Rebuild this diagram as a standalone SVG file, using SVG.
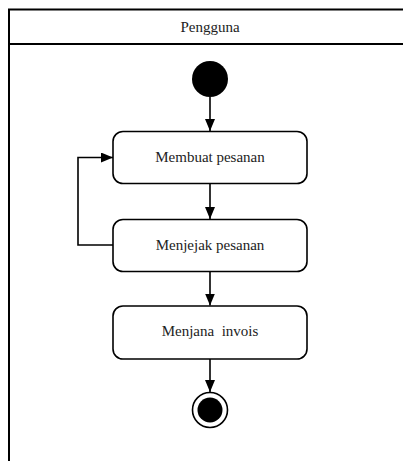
<svg xmlns="http://www.w3.org/2000/svg" width="403" height="461" viewBox="0 0 403 461">
<style>
.frame{fill:none;stroke:#000;stroke-width:2}
.box{fill:#fff;stroke:#000;stroke-width:1.6}
.lbl{font-family:"Liberation Serif",serif;font-size:15px;fill:#222;text-anchor:middle;dominant-baseline:central}
.edge{fill:none;stroke:#000;stroke-width:1.6}
</style>
<defs>
<marker id="arr" viewBox="0 0 10 10" refX="10" refY="5" markerWidth="10" markerHeight="10" markerUnits="userSpaceOnUse" orient="auto">
<path d="M0,0 L10,5 L0,10 Z" fill="#000"/>
</marker>
<marker id="arrv" viewBox="0 0 12 10" refX="12" refY="5" markerWidth="12" markerHeight="10" markerUnits="userSpaceOnUse" orient="auto">
<path d="M0,0 L12,5 L0,10 Z" fill="#000"/>
</marker>
</defs>
<g id="swimlane">
<rect class="frame" x="9" y="9.5" width="420" height="480"/>
<line class="frame" x1="9" y1="44" x2="429" y2="44"/>
<text class="lbl" x="210" y="27">Pengguna</text>
</g>
<g id="connectors">
<line class="edge" x1="210" y1="97" x2="210" y2="131" marker-end="url(#arrv)"/>
<line class="edge" x1="210" y1="183" x2="210" y2="219" marker-end="url(#arrv)"/>
<line class="edge" x1="210" y1="271" x2="210" y2="305.5" marker-end="url(#arrv)"/>
<line class="edge" x1="210" y1="359" x2="210" y2="392" marker-end="url(#arrv)"/>
<polyline class="edge" points="113,245 78,245 78,157.5 113,157.5" marker-end="url(#arrv)"/>
</g>
<g id="start">
<circle cx="210" cy="79" r="18" fill="#000"/>
</g>
<g id="membuat">
<rect class="box" x="113" y="131.5" width="194" height="52" rx="10"/>
<text class="lbl" x="210" y="157">Membuat pesanan</text>
</g>
<g id="menjejak">
<rect class="box" x="113" y="219.5" width="194" height="52" rx="10"/>
<text class="lbl" x="210" y="245">Menjejak pesanan</text>
</g>
<g id="menjana">
<rect class="box" x="113" y="306" width="194" height="53" rx="10"/>
<text class="lbl" x="210" y="331" xml:space="preserve">Menjana  invois</text>
</g>
<g id="end">
<circle cx="210" cy="410" r="17.5" fill="#fff" stroke="#000" stroke-width="1.6"/>
<circle cx="210" cy="410" r="12.5" fill="#000"/>
</g>
</svg>
